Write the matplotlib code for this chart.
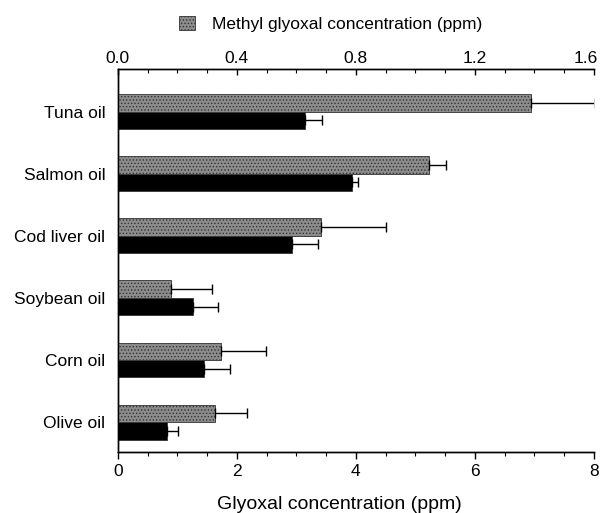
import numpy as np
import matplotlib
matplotlib.use('Agg')
from matplotlib import pyplot as plt
from matplotlib.transforms import ScaledTranslation

oils = ['Tuna oil', 'Salmon oil', 'Cod liver oil', 'Soybean oil', 'Corn oil', 'Olive oil']
methyl = [1.39, 1.047, 0.683, 0.178, 0.347, 0.328]
methyl_err = [0.215, 0.056, 0.22, 0.137, 0.15, 0.105]
glyoxal = [3.15, 3.93, 2.92, 1.27, 1.45, 0.82]
glyoxal_err = [0.28, 0.10, 0.44, 0.41, 0.44, 0.19]

plt.rcParams['font.family'] = ['Liberation Sans', 'DejaVu Sans']
plt.rcParams['hatch.linewidth'] = 0.6

fig = plt.figure(figsize=(6.01, 5.13), dpi=100)
ax = fig.add_axes([0.196, 0.119, 0.792, 0.746])
ax2 = ax.twiny()

n = len(oils)
y = np.arange(n)[::-1]
h = 0.28

ax.barh(y - h / 2, glyoxal, height=h, color='black', edgecolor='#333333', linewidth=0.6,
        xerr=[np.zeros(n), glyoxal_err], error_kw=dict(ecolor='black', elinewidth=1, capsize=3.5, capthick=1))
bars = ax2.barh(y + h / 2, methyl, height=h, color='#8c8c8c', edgecolor='#333333', linewidth=0.6,
                hatch='.....', xerr=[np.zeros(n), methyl_err],
                error_kw=dict(ecolor='black', elinewidth=1, capsize=3.5, capthick=1),
                label='Methyl glyoxal concentration (ppm)')

ax.set_xlim(0, 8)
ax2.set_xlim(0, 1.6)
ax.set_ylim(-0.48, n - 1 + 0.68)
ax.set_yticks(y)
ax.set_yticklabels(oils, fontsize=12.5)
ax.tick_params(axis='y', length=0, pad=9)

ax.set_xticks([0, 2, 4, 6, 8])
ax.set_xticks(np.arange(0, 8.01, 0.5), minor=True)
ax.tick_params(axis='x', which='major', labelsize=12.5, length=5, width=1)
ax.tick_params(axis='x', which='minor', length=3, width=0.8)
ax.set_xlabel('Glyoxal concentration (ppm)', fontsize=14)
ax.xaxis.set_label_coords(0.466, -0.115)

ax2.set_xticks([0.0, 0.4, 0.8, 1.2, 1.6])
ax2.set_xticklabels(['0.0', '0.4', '0.8', '1.2', '1.6'])
ax2.set_xticks(np.arange(0, 1.601, 0.1), minor=True)
ax2.tick_params(axis='x', which='major', labelsize=12.5, length=4, width=1, direction='in', pad=2)
ax2.tick_params(axis='x', which='minor', length=3, width=0.8, direction='in')
last = ax2.get_xticklabels()[-1]
last.set_transform(last.get_transform() + ScaledTranslation(-8 / 100, 0, fig.dpi_scale_trans))

for a in (ax, ax2):
    a.spines['right'].set_visible(False)
    for s in ('left', 'top', 'bottom'):
        a.spines[s].set_linewidth(1)

fig.legend(handles=[bars], loc='upper center', bbox_to_anchor=(0.55, 1.0), frameon=False,
           fontsize=12.5, handlelength=0.9, handleheight=0.9, handletextpad=1.0)

fig.savefig('out.png', dpi=100)
